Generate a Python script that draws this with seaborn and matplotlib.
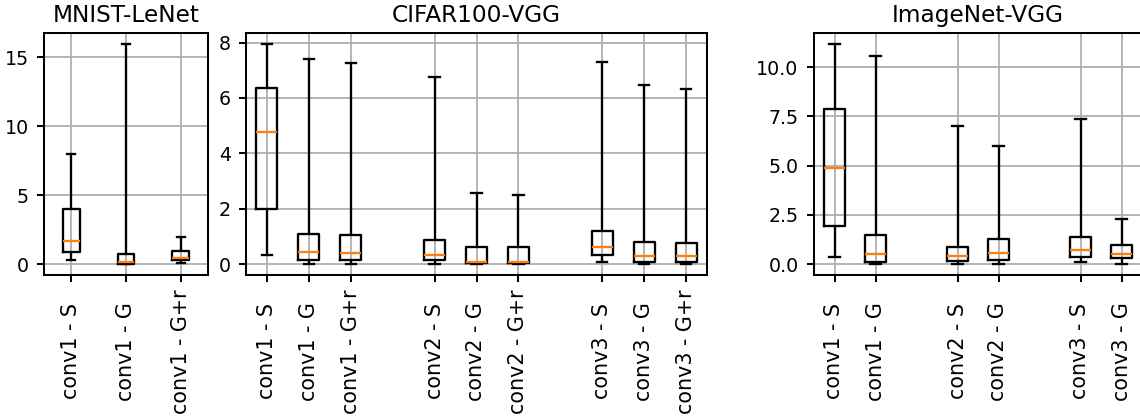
import numpy as np
import pandas as pd
import seaborn as sns
import matplotlib.pyplot as plt

# five-number summaries (min, q1, median, q3, max)
mnist_labels = ["conv1 - S", "conv1 - G", "conv1 - G+r"]
mnist_pos = [1, 2, 3]
mnist_lo = [0.30, 0.00, 0.07]
mnist_q1 = [0.85, 0.02, 0.27]
mnist_med = [1.65, 0.15, 0.41]
mnist_q3 = [4.00, 0.75, 0.92]
mnist_hi = [7.95, 15.95, 1.96]

cifar_labels = ["conv1 - S", "conv1 - G", "conv1 - G+r",
                "conv2 - S", "conv2 - G", "conv2 - G+r",
                "conv3 - S", "conv3 - G", "conv3 - G+r"]
cifar_pos = [1, 2, 3, 5, 6, 7, 9, 10, 11]
cifar_lo = [0.34, 0.00, 0.00, 0.01, 0.00, 0.00, 0.07, 0.00, 0.00]
cifar_q1 = [2.00, 0.16, 0.16, 0.13, 0.03, 0.03, 0.34, 0.06, 0.08]
cifar_med = [4.78, 0.42, 0.40, 0.34, 0.07, 0.07, 0.62, 0.28, 0.28]
cifar_q3 = [6.37, 1.09, 1.06, 0.87, 0.60, 0.60, 1.19, 0.81, 0.77]
cifar_hi = [7.95, 7.41, 7.26, 6.75, 2.57, 2.50, 7.31, 6.48, 6.34]

imnet_labels = ["conv1 - S", "conv1 - G", "conv2 - S", "conv2 - G",
                "conv3 - S", "conv3 - G"]
imnet_pos = [1, 2, 4, 5, 7, 8]
imnet_lo = [0.37, 0.00, 0.00, 0.00, 0.12, 0.00]
imnet_q1 = [1.91, 0.10, 0.17, 0.19, 0.37, 0.29]
imnet_med = [4.86, 0.49, 0.39, 0.57, 0.71, 0.49]
imnet_q3 = [7.88, 1.49, 0.88, 1.29, 1.35, 0.97]
imnet_hi = [11.17, 10.54, 7.00, 5.98, 7.34, 2.30]


def to_long(pos, lo, q1, med, q3, hi):
    # 5 points per box -> quartiles land exactly on q1/med/q3
    rows = []
    for i, p in enumerate(pos):
        for v in (lo[i], q1[i], med[i], q3[i], hi[i]):
            rows.append({"pos": p, "val": v})
    return pd.DataFrame(rows)


panels = [
    ("MNIST-LeNet", mnist_labels, mnist_pos,
     to_long(mnist_pos, mnist_lo, mnist_q1, mnist_med, mnist_q3, mnist_hi), 0.3),
    ("CIFAR100-VGG", cifar_labels, cifar_pos,
     to_long(cifar_pos, cifar_lo, cifar_q1, cifar_med, cifar_q3, cifar_hi), 0.5),
    ("ImageNet-VGG", imnet_labels, imnet_pos,
     to_long(imnet_pos, imnet_lo, imnet_q1, imnet_med, imnet_q3, imnet_hi), 0.5),
]

dpi = 133
plt.rcParams["axes.linewidth"] = 1.1
fig = plt.figure(figsize=(1140 / dpi, 417 / dpi), dpi=dpi)
rects = [
    [44 / 1140, 0.3405, 164 / 1140, 0.5803],
    [246 / 1140, 0.3405, 461 / 1140, 0.5803],
    [814 / 1140, 0.3405, 328 / 1140, 0.5803],
]

for rect, (title, labels, pos, df, w) in zip(rects, panels):
    ax = fig.add_axes(rect)
    sns.boxplot(data=df, x="pos", y="val", native_scale=True, width=w,
                whis=(0, 100), fill=False, color="black", linewidth=1.25,
                medianprops={"color": "#ff7f0e"}, ax=ax)
    ax.set_xticks(pos)
    ax.set_xticklabels(labels, rotation=90, va="center")
    ax.set_xlim(0.5, max(pos) + 0.5)
    ax.tick_params(axis="both", length=3.8, width=1.1)
    ax.tick_params(axis="x", labelsize=11.2, pad=37.5)
    ax.tick_params(axis="y", labelsize=10.3, pad=4.5)
    ax.grid(True, color="#b0b0b0", linewidth=1.0)
    ax.set_xlabel("")
    ax.set_ylabel("")
    ax.set_title(title, fontsize=12.6)

fig.savefig("out.png", dpi=dpi)
